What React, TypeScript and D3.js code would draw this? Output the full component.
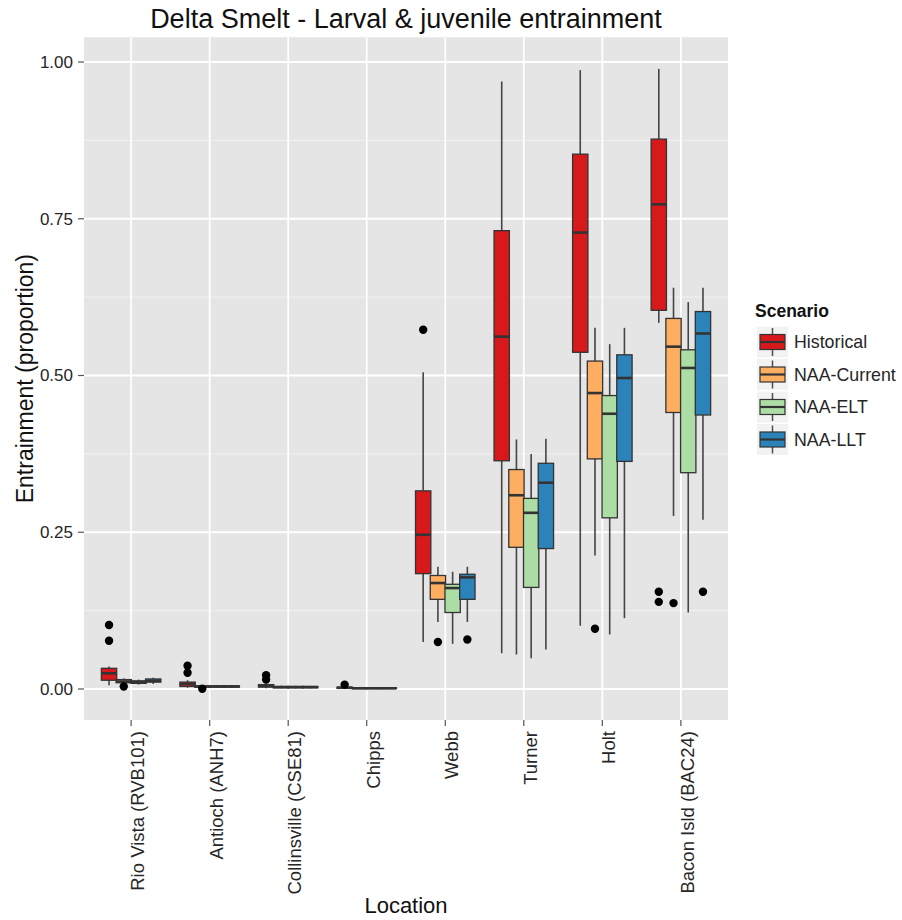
import React from "react";
import * as d3 from "d3";

const categories = [
  "Rio Vista (RVB101)",
  "Antioch (ANH7)",
  "Collinsville (CSE81)",
  "Chipps",
  "Webb",
  "Turner",
  "Holt",
  "Bacon Isld (BAC24)",
];
const scenarios = ["Historical", "NAA-Current", "NAA-ELT", "NAA-LLT"];
const colors = ["#D7191C", "#FDAE61", "#ABDDA4", "#2B83BA"];
const yTicks = [0, 0.25, 0.5, 0.75, 1.0];
const yMinor = [0.125, 0.375, 0.625, 0.875];

// [lower whisker, q1, median, q3, upper whisker] per category
const historical = [
  [0.006, 0.014, 0.025, 0.033, 0.036],
  [0.002, 0.004, 0.008, 0.011, 0.014],
  [0.001, 0.003, 0.005, 0.007, 0.009],
  [0.0, 0.001, 0.002, 0.003, 0.004],
  [0.075, 0.184, 0.246, 0.316, 0.505],
  [0.057, 0.364, 0.562, 0.731, 0.969],
  [0.101, 0.537, 0.728, 0.853, 0.987],
  [0.584, 0.604, 0.773, 0.877, 0.989],
];
const naaCurrent = [
  [0.007, 0.01, 0.012, 0.015, 0.017],
  [0.002, 0.003, 0.004, 0.005, 0.006],
  [0.001, 0.002, 0.003, 0.004, 0.005],
  [0.0, 0.001, 0.001, 0.002, 0.003],
  [0.107, 0.143, 0.169, 0.181, 0.195],
  [0.055, 0.226, 0.309, 0.35, 0.398],
  [0.213, 0.367, 0.472, 0.523, 0.576],
  [0.276, 0.441, 0.546, 0.591, 0.64],
];
const naaELT = [
  [0.007, 0.009, 0.011, 0.013, 0.015],
  [0.002, 0.003, 0.004, 0.005, 0.006],
  [0.001, 0.002, 0.003, 0.004, 0.005],
  [0.0, 0.001, 0.001, 0.002, 0.003],
  [0.072, 0.122, 0.161, 0.167, 0.187],
  [0.049, 0.162, 0.281, 0.304, 0.375],
  [0.087, 0.273, 0.439, 0.468, 0.55],
  [0.122, 0.345, 0.512, 0.541, 0.617],
];
const naaLLT = [
  [0.008, 0.011, 0.013, 0.016, 0.018],
  [0.002, 0.003, 0.004, 0.005, 0.006],
  [0.001, 0.002, 0.003, 0.004, 0.005],
  [0.0, 0.001, 0.001, 0.002, 0.003],
  [0.107, 0.143, 0.178, 0.183, 0.195],
  [0.063, 0.224, 0.329, 0.36, 0.399],
  [0.113, 0.363, 0.496, 0.533, 0.576],
  [0.27, 0.437, 0.567, 0.602, 0.64],
];
// outliers: [categoryIndex, scenarioIndex, value]
const outliers = [
  [0, 0, 0.102],
  [0, 0, 0.077],
  [0, 1, 0.004],
  [1, 0, 0.037],
  [1, 0, 0.026],
  [1, 1, 0.0005],
  [2, 0, 0.022],
  [2, 0, 0.015],
  [3, 0, 0.007],
  [4, 0, 0.573],
  [4, 1, 0.075],
  [4, 3, 0.079],
  [6, 1, 0.096],
  [7, 0, 0.155],
  [7, 0, 0.139],
  [7, 1, 0.137],
  [7, 3, 0.155],
];

const seriesData = [historical, naaCurrent, naaELT, naaLLT];

const FONT = "'Liberation Sans', Arial, Helvetica, sans-serif";

export default function App() {
  const W = 902;
  const H = 920;
  const px0 = 84;
  const px1 = 728;
  const y = d3.scaleLinear().domain([0, 1]).range([689, 62]);
  const py0 = y(1.0395);
  const py1 = y(-0.0495);
  const x = d3.scalePoint<string>().domain(categories).range([px0, px1]).padding(0.6);
  const step = x.step();
  const inner = d3
    .scaleBand<string>()
    .domain(scenarios)
    .range([-0.375 * step, 0.375 * step])
    .padding(0);
  const bw = inner.bandwidth();
  const boxW = bw + 0.6;
  const textCol = "#262626";

  return (
    <svg
      width={W}
      height={H}
      style={{ position: "absolute", left: 0, top: 0, background: "#fff" }}
      fontFamily={FONT}
    >
      <rect x={0} y={0} width={W} height={H} fill="#fff" />
      {/* panel */}
      <rect x={px0} y={py0} width={px1 - px0} height={py1 - py0} fill="#E5E5E5" />
      {yMinor.map((v) => (
        <line key={"mn" + v} x1={px0} x2={px1} y1={y(v)} y2={y(v)} stroke="#F2F2F2" strokeWidth={1} />
      ))}
      {yTicks.map((v) => (
        <line key={"mj" + v} x1={px0} x2={px1} y1={y(v)} y2={y(v)} stroke="#fff" strokeWidth={1.8} />
      ))}
      {categories.map((c) => (
        <line key={"vg" + c} x1={x(c)} x2={x(c)} y1={py0} y2={py1} stroke="#fff" strokeWidth={1.8} />
      ))}

      {/* boxes */}
      {categories.map((c, ci) =>
        scenarios.map((s, si) => {
          const d = seriesData[si][ci];
          const cx = (x(c) as number) + (inner(s) as number) + bw / 2;
          const [lo, q1, med, q3, hi] = d;
          return (
            <g key={c + s}>
              <line x1={cx} x2={cx} y1={y(hi)} y2={y(q3)} stroke="#454545" strokeWidth={1.6} />
              <line x1={cx} x2={cx} y1={y(q1)} y2={y(lo)} stroke="#454545" strokeWidth={1.6} />
              <rect
                x={cx - boxW / 2}
                y={y(q3)}
                width={boxW}
                height={Math.max(y(q1) - y(q3), 0.5)}
                fill={colors[si]}
                stroke="#333333"
                strokeWidth={1.3}
              />
              <line
                x1={cx - boxW / 2}
                x2={cx + boxW / 2}
                y1={y(med)}
                y2={y(med)}
                stroke="#333333"
                strokeWidth={2.6}
              />
            </g>
          );
        })
      )}
      {outliers.map(([ci, si, v], i) => {
        const cx = (x(categories[ci]) as number) + (inner(scenarios[si]) as number) + bw / 2;
        return <circle key={"o" + i} cx={cx} cy={y(v)} r={4.2} fill="#000" />;
      })}

      {/* y axis */}
      {yTicks.map((v) => (
        <g key={"yt" + v}>
          <line x1={px0 - 6} x2={px0} y1={y(v)} y2={y(v)} stroke="#555" strokeWidth={1.2} />
          <text x={px0 - 11} y={y(v)} dy="0.35em" textAnchor="end" fontSize={17} fill={textCol}>
            {d3.format(".2f")(v)}
          </text>
        </g>
      ))}
      {/* x axis */}
      {categories.map((c) => (
        <g key={"xt" + c}>
          <line x1={x(c)} x2={x(c)} y1={py1} y2={py1 + 6} stroke="#555" strokeWidth={1.2} />
          <text
            transform={`translate(${(x(c) as number) + 13},${py1 + 11}) rotate(-90)`}
            textAnchor="end"
            fontSize={18.5}
            fill={textCol}
          >
            {c}
          </text>
        </g>
      ))}

      {/* titles */}
      <text x={(px0 + px1) / 2} y={28} textAnchor="middle" fontSize={27} fill="#111">
        Delta Smelt - Larval &amp; juvenile entrainment
      </text>
      <text x={(px0 + px1) / 2} y={913} textAnchor="middle" fontSize={22} fill="#111">
        Location
      </text>
      <text
        transform={`translate(33,${(py0 + py1) / 2}) rotate(-90)`}
        textAnchor="middle"
        fontSize={23}
        fill="#111"
      >
        Entrainment (proportion)
      </text>

      {/* legend */}
      <text x={755} y={311} dy="0.35em" fontSize={17.5} fontWeight="bold" fill="#111">
        Scenario
      </text>
      {scenarios.map((s, i) => {
        const cy = 342 + i * 32.5;
        const kx = 772.5;
        return (
          <g key={"lg" + s}>
            <rect x={kx - 16} y={cy - 16} width={32} height={32} fill="#F2F2F2" stroke="#fff" strokeWidth={1} />
            <line x1={kx} x2={kx} y1={cy - 14} y2={cy + 14} stroke="#4D4D4D" strokeWidth={1.5} />
            <rect x={kx - 12.5} y={cy - 7.5} width={25} height={15} fill={colors[i]} stroke="#333" strokeWidth={1.2} />
            <line x1={kx - 12.5} x2={kx + 12.5} y1={cy} y2={cy} stroke="#333" strokeWidth={2.2} />
            <text x={794} y={cy} dy="0.35em" fontSize={17.8} fill={textCol}>
              {s}
            </text>
          </g>
        );
      })}
    </svg>
  );
}
